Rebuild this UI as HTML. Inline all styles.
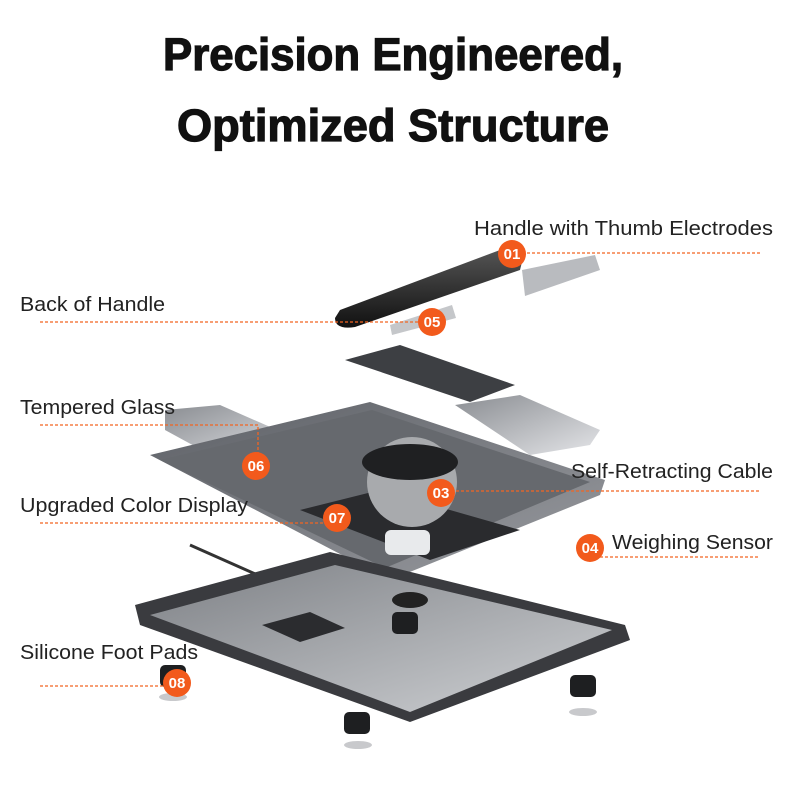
<!DOCTYPE html>
<html><head><style>html,body{margin:0;padding:0;background:#fff}svg{display:block}</style></head><body>
<svg width="800" height="800" viewBox="0 0 800 800" xmlns="http://www.w3.org/2000/svg" font-family="Liberation Sans, sans-serif">
<defs>
<linearGradient id="gl" x1="0" y1="0" x2="1" y2="1"><stop offset="0" stop-color="#8a8d92"/><stop offset="1" stop-color="#e4e5e8"/></linearGradient>
<linearGradient id="shell" x1="0" y1="0" x2="1" y2="1"><stop offset="0" stop-color="#5d6066"/><stop offset="1" stop-color="#9a9ca1"/></linearGradient>
<linearGradient id="base" x1="0" y1="0" x2="1" y2="1"><stop offset="0" stop-color="#7e8186"/><stop offset="1" stop-color="#cfd1d4"/></linearGradient>
<linearGradient id="hd" x1="0" y1="0" x2="0" y2="1"><stop offset="0" stop-color="#555"/><stop offset="1" stop-color="#111"/></linearGradient>
</defs>
<text x="393" y="70" text-anchor="middle" font-size="45" font-weight="bold" fill="#111" stroke="#111" stroke-width="1.2" textLength="460" lengthAdjust="spacingAndGlyphs">Precision Engineered,</text>
<text x="393" y="141" text-anchor="middle" font-size="45" font-weight="bold" fill="#111" stroke="#111" stroke-width="1.2" textLength="432" lengthAdjust="spacingAndGlyphs">Optimized Structure</text>

<path d="M340 310 L500 250 Q520 245 522 262 L520 270 L355 327 Q335 330 335 318 Z" fill="url(#hd)"/>
<path d="M522 270 L595 255 L600 270 L525 296 Z" fill="#b9bbbf"/>
<path d="M390 325 L452 305 L456 318 L392 335 Z" fill="#c5c7ca"/>
<path d="M345 360 L400 345 L515 385 L470 402 Z" fill="#3d3f43"/>
<path d="M455 405 L520 395 L600 430 L590 445 L530 455 Z" fill="url(#gl)"/>
<path d="M165 410 L220 405 L300 440 L220 460 L165 430 Z" fill="url(#gl)"/>
<path d="M150 455 L370 402 L605 480 L600 495 L390 580 Z" fill="url(#shell)"/>
<path d="M160 460 L372 410 L590 482 L385 568 Z" fill="#66696e"/>
<path d="M300 510 L380 490 L520 530 L430 560 Z" fill="#2a2b2e"/>
<circle cx="412" cy="482" r="45" fill="#a8aaad"/>
<ellipse cx="410" cy="462" rx="48" ry="18" fill="#1f2022"/>
<rect x="385" y="530" width="45" height="25" rx="6" fill="#e8eaec"/>
<line x1="190" y1="545" x2="280" y2="585" stroke="#333" stroke-width="3"/>
<path d="M135 605 L330 552 L625 625 L630 640 L410 722 L140 625 Z" fill="#3a3b3f"/>
<path d="M150 615 L335 565 L612 630 L410 712 Z" fill="url(#base)"/>
<path d="M262 625 L310 612 L345 628 L300 642 Z" fill="#2b2c2f"/>
<ellipse cx="410" cy="600" rx="18" ry="8" fill="#222"/>
<g fill="#1e1f21"><rect x="392" y="612" width="26" height="22" rx="5"/><rect x="344" y="712" width="26" height="22" rx="5"/><rect x="570" y="675" width="26" height="22" rx="5"/><rect x="160" y="665" width="26" height="22" rx="5"/></g>
<g fill="#c8c9cc"><ellipse cx="358" cy="745" rx="14" ry="4"/><ellipse cx="583" cy="712" rx="14" ry="4"/><ellipse cx="173" cy="697" rx="14" ry="4"/></g>

<g font-size="20" fill="#222">
<text x="474" y="235" textLength="299" lengthAdjust="spacingAndGlyphs">Handle with Thumb Electrodes</text>
<text x="20" y="311" textLength="145" lengthAdjust="spacingAndGlyphs">Back of Handle</text>
<text x="20" y="414" textLength="155" lengthAdjust="spacingAndGlyphs">Tempered Glass</text>
<text x="571" y="478" textLength="202" lengthAdjust="spacingAndGlyphs">Self-Retracting Cable</text>
<text x="20" y="512" textLength="228" lengthAdjust="spacingAndGlyphs">Upgraded Color Display</text>
<text x="612" y="549" textLength="161" lengthAdjust="spacingAndGlyphs">Weighing Sensor</text>
<text x="20" y="659" textLength="178" lengthAdjust="spacingAndGlyphs">Silicone Foot Pads</text>
</g>
<g stroke="#f26522" stroke-width="1.3" stroke-dasharray="3,2" fill="none">
<path d="M512 253 H760"/><path d="M40 322 H430"/><path d="M40 425 H258 V466"/>
<path d="M441 491 H760"/><path d="M40 523 H335"/><path d="M590 557 H760"/><path d="M40 686 H175"/>
</g>
<g fill="#f25a1c"><circle cx="512" cy="254" r="14"/><circle cx="432" cy="322" r="14"/><circle cx="256" cy="466" r="14"/><circle cx="441" cy="493" r="14"/><circle cx="337" cy="518" r="14"/><circle cx="590" cy="548" r="14"/><circle cx="177" cy="683" r="14"/></g>
<g fill="#fff" font-size="15" font-weight="bold" text-anchor="middle">
<text x="512" y="259">01</text><text x="432" y="327">05</text><text x="256" y="471">06</text><text x="441" y="498">03</text><text x="337" y="523">07</text><text x="590" y="553">04</text><text x="177" y="688">08</text>
</g>
</svg>
</body></html>
